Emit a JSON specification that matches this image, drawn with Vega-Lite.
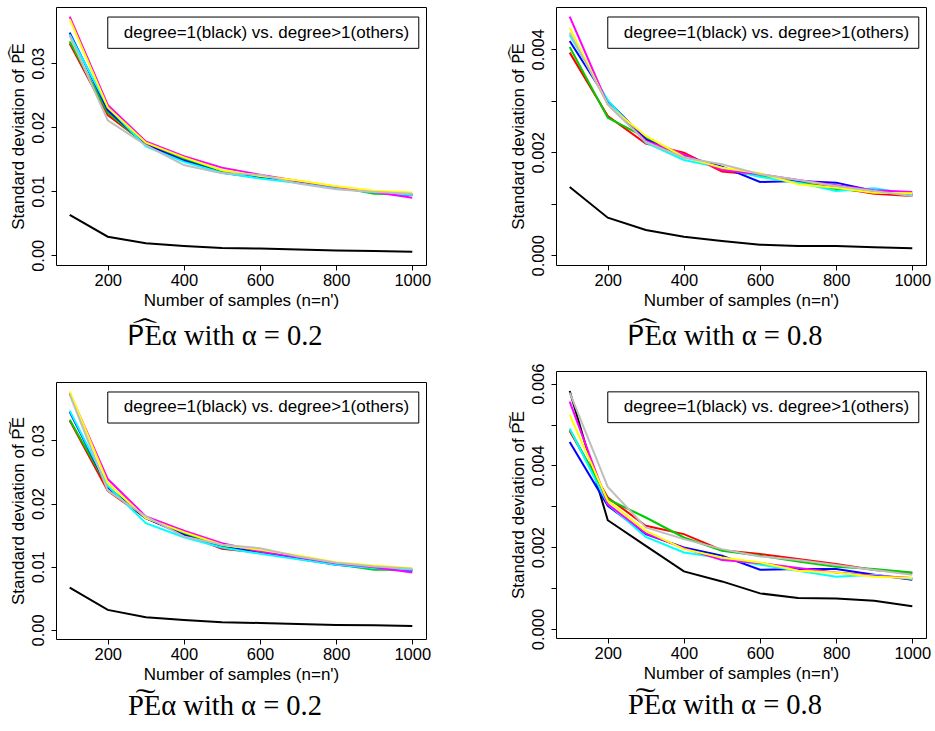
{
  "$schema": "https://vega.github.io/schema/vega-lite/v6.json",
  "background": "white",
  "padding": {"left": 8, "top": 6, "right": 0, "bottom": 2},
  "datasets": {
    "tl": [
      {"n": 100, "d1": 0.0063, "d2": 0.0331, "d3": 0.0334, "d4": 0.0348, "d5": 0.0345, "d6": 0.0373, "d7": 0.0369, "d8": 0.0343},
      {"n": 200, "d1": 0.0029, "d2": 0.0219, "d3": 0.0223, "d4": 0.0227, "d5": 0.0232, "d6": 0.0235, "d7": 0.0231, "d8": 0.0211},
      {"n": 300, "d1": 0.00188, "d2": 0.0174, "d3": 0.0173, "d4": 0.0173, "d5": 0.0170, "d6": 0.0178, "d7": 0.0176, "d8": 0.0172},
      {"n": 400, "d1": 0.00146, "d2": 0.0152, "d3": 0.0150, "d4": 0.0148, "d5": 0.0146, "d6": 0.0155, "d7": 0.0153, "d8": 0.0141},
      {"n": 500, "d1": 0.00115, "d2": 0.0130, "d3": 0.0132, "d4": 0.0129, "d5": 0.0129, "d6": 0.0137, "d7": 0.0133, "d8": 0.0128},
      {"n": 600, "d1": 0.00104, "d2": 0.0122, "d3": 0.0123, "d4": 0.0121, "d5": 0.0120, "d6": 0.0126, "d7": 0.0124, "d8": 0.0126},
      {"n": 700, "d1": 0.00089, "d2": 0.0115, "d3": 0.0115, "d4": 0.0114, "d5": 0.0113, "d6": 0.0116, "d7": 0.0117, "d8": 0.0112},
      {"n": 800, "d1": 0.00073, "d2": 0.0106, "d3": 0.0107, "d4": 0.0106, "d5": 0.0105, "d6": 0.0107, "d7": 0.0108, "d8": 0.0103},
      {"n": 900, "d1": 0.00068, "d2": 0.0099, "d3": 0.0096, "d4": 0.0098, "d5": 0.0098, "d6": 0.0099, "d7": 0.0101, "d8": 0.0099},
      {"n": 1000, "d1": 0.00057, "d2": 0.0095, "d3": 0.0095, "d4": 0.0094, "d5": 0.0094, "d6": 0.0090, "d7": 0.0098, "d8": 0.0096}
    ],
    "tr": [
      {"n": 100, "d1": 0.001327, "d2": 0.003935, "d3": 0.004045, "d4": 0.004162, "d5": 0.004278, "d6": 0.004634, "d7": 0.00442, "d8": 0.004324},
      {"n": 200, "d1": 0.000731, "d2": 0.002706, "d3": 0.002673, "d4": 0.002997, "d5": 0.00301, "d6": 0.002932, "d7": 0.002919, "d8": 0.002932},
      {"n": 300, "d1": 0.000492, "d2": 0.002168, "d3": 0.002285, "d4": 0.002252, "d5": 0.002188, "d6": 0.00222, "d7": 0.002317, "d8": 0.0022},
      {"n": 400, "d1": 0.000362, "d2": 0.001994, "d3": 0.001929, "d4": 0.001929, "d5": 0.001851, "d6": 0.001961, "d7": 0.001909, "d8": 0.001896},
      {"n": 500, "d1": 0.000278, "d2": 0.001625, "d3": 0.001689, "d4": 0.001722, "d5": 0.0017, "d6": 0.001657, "d7": 0.001702, "d8": 0.001767},
      {"n": 600, "d1": 0.000207, "d2": 0.00156, "d3": 0.00154, "d4": 0.001424, "d5": 0.001521, "d6": 0.001573, "d7": 0.001592, "d8": 0.001573},
      {"n": 700, "d1": 0.000181, "d2": 0.001411, "d3": 0.00143, "d4": 0.001443, "d5": 0.001411, "d6": 0.001463, "d7": 0.001379, "d8": 0.001463},
      {"n": 800, "d1": 0.000181, "d2": 0.001314, "d3": 0.001282, "d4": 0.001411, "d5": 0.001249, "d6": 0.001359, "d7": 0.001314, "d8": 0.001346},
      {"n": 900, "d1": 0.000155, "d2": 0.001197, "d3": 0.001236, "d4": 0.001249, "d5": 0.001301, "d6": 0.001262, "d7": 0.001217, "d8": 0.001249},
      {"n": 1000, "d1": 0.000136, "d2": 0.001152, "d3": 0.001171, "d4": 0.001184, "d5": 0.001184, "d6": 0.00123, "d7": 0.001204, "d8": 0.001152}
    ],
    "bl": [
      {"n": 100, "d1": 0.00671, "d2": 0.03312, "d3": 0.03327, "d4": 0.0345, "d5": 0.0347, "d6": 0.0375, "d7": 0.03776, "d8": 0.03724},
      {"n": 200, "d1": 0.00317, "d2": 0.02203, "d3": 0.0226, "d4": 0.02255, "d5": 0.0228, "d6": 0.02387, "d7": 0.02324, "d8": 0.02203},
      {"n": 300, "d1": 0.00201, "d2": 0.01769, "d3": 0.01769, "d4": 0.01769, "d5": 0.0169, "d6": 0.01796, "d7": 0.01769, "d8": 0.01796},
      {"n": 400, "d1": 0.00158, "d2": 0.01516, "d3": 0.0153, "d4": 0.01505, "d5": 0.01468, "d6": 0.01569, "d7": 0.01548, "d8": 0.01479},
      {"n": 500, "d1": 0.00121, "d2": 0.01283, "d3": 0.0132, "d4": 0.01305, "d5": 0.01305, "d6": 0.01373, "d7": 0.01347, "d8": 0.01347},
      {"n": 600, "d1": 0.00111, "d2": 0.01225, "d3": 0.01225, "d4": 0.01241, "d5": 0.01204, "d6": 0.01241, "d7": 0.01268, "d8": 0.01294},
      {"n": 700, "d1": 0.00095, "d2": 0.01136, "d3": 0.01136, "d4": 0.01125, "d5": 0.0112, "d6": 0.0115, "d7": 0.01178, "d8": 0.01162},
      {"n": 800, "d1": 0.00079, "d2": 0.0104, "d3": 0.0104, "d4": 0.0103, "d5": 0.0103, "d6": 0.01056, "d7": 0.01072, "d8": 0.01062},
      {"n": 900, "d1": 0.00074, "d2": 0.00988, "d3": 0.00951, "d4": 0.00982, "d5": 0.00977, "d6": 0.00993, "d7": 0.01019, "d8": 0.01004},
      {"n": 1000, "d1": 0.00063, "d2": 0.00951, "d3": 0.00951, "d4": 0.00935, "d5": 0.00951, "d6": 0.00908, "d7": 0.00977, "d8": 0.00967}
    ],
    "br": [
      {"n": 100, "d1": 0.00582, "d2": 0.004844, "d3": 0.004885, "d4": 0.004575, "d5": 0.0049, "d6": 0.00556, "d7": 0.005235, "d8": 0.00578},
      {"n": 200, "d1": 0.00266, "d2": 0.003216, "d3": 0.003175, "d4": 0.003012, "d5": 0.003053, "d6": 0.003053, "d7": 0.003134, "d8": 0.003476},
      {"n": 300, "d1": 0.002035, "d2": 0.002524, "d3": 0.002727, "d4": 0.00232, "d5": 0.002255, "d6": 0.002336, "d7": 0.002402, "d8": 0.002483},
      {"n": 400, "d1": 0.001408, "d2": 0.00232, "d3": 0.002239, "d4": 0.001995, "d5": 0.001872, "d6": 0.001978, "d7": 0.001954, "d8": 0.002198},
      {"n": 500, "d1": 0.001164, "d2": 0.001929, "d3": 0.001913, "d4": 0.001791, "d5": 0.001734, "d6": 0.001685, "d7": 0.00175, "d8": 0.001954},
      {"n": 600, "d1": 0.000871, "d2": 0.001832, "d3": 0.001791, "d4": 0.001449, "d5": 0.001571, "d6": 0.001612, "d7": 0.001628, "d8": 0.001775},
      {"n": 700, "d1": 0.000757, "d2": 0.00171, "d3": 0.001653, "d4": 0.001465, "d5": 0.001425, "d6": 0.00149, "d7": 0.001425, "d8": 0.001685},
      {"n": 800, "d1": 0.000749, "d2": 0.001588, "d3": 0.001522, "d4": 0.001465, "d5": 0.001278, "d6": 0.001384, "d7": 0.001384, "d8": 0.001563},
      {"n": 900, "d1": 0.000692, "d2": 0.001441, "d3": 0.001465, "d4": 0.001327, "d5": 0.001327, "d6": 0.001303, "d7": 0.001278, "d8": 0.001441},
      {"n": 1000, "d1": 0.000554, "d2": 0.001368, "d3": 0.001384, "d4": 0.001205, "d5": 0.001221, "d6": 0.001246, "d7": 0.001246, "d8": 0.001327}
    ]
  },
  "spacing": 76,
  "hconcat": [
    {
      "bounds": "flush",
      "spacing": 117,
      "vconcat": [
        {
          "width": 370, "height": 258,
          "title": {"text": "P\u1dcdE\u03b1 with \u03b1 = 0.2", "offset": 13},
          "data": {"name": "tl"},
          "transform": [{"fold": ["d1", "d2", "d3", "d4", "d5", "d6", "d7", "d8"], "as": ["key", "sd"]}],
          "layer": [
            {
              "mark": {"type": "line", "strokeWidth": 2},
              "encoding": {
                "x": {"field": "n", "type": "quantitative", "scale": {"domain": [64, 1036], "nice": false, "zero": false}, "axis": {"values": [200, 400, 600, 800, 1000], "format": "d", "title": "Number of samples (n=n')"}},
                "y": {"field": "sd", "type": "quantitative", "scale": {"domain": [-0.00152, 0.0388], "nice": false, "zero": false}, "axis": {"values": [0, 0.01, 0.02, 0.03], "format": ".2f", "title": "Standard deviation of P\u1dcdE"}},
                "color": {"field": "key", "type": "nominal", "scale": {"domain": ["d1", "d2", "d3", "d4", "d5", "d6", "d7", "d8"], "range": ["black", "red", "#00CD00", "blue", "cyan", "magenta", "yellow", "#BEBEBE"]}, "legend": null}
              }
            },
            {
              "data": {"values": [{}]},
              "mark": {"type": "rect", "fill": "white", "stroke": "black", "strokeWidth": 1},
              "encoding": {"x": {"datum": 200}, "x2": {"datum": 1017}, "y": {"datum": 0.03723}, "y2": {"datum": 0.03234}}
            },
            {
              "data": {"values": [{}]},
              "mark": {"type": "text", "align": "left", "baseline": "middle", "font": "Liberation Sans", "fontSize": 17, "color": "black"},
              "encoding": {"x": {"datum": 242}, "y": {"datum": 0.03478}, "text": {"value": "degree=1(black) vs. degree>1(others)"}}
            }
          ]
        },
        {
          "width": 370, "height": 257,
          "title": {"text": "P\u0360E\u03b1 with \u03b1 = 0.2", "offset": 9},
          "data": {"name": "bl"},
          "transform": [{"fold": ["d1", "d2", "d3", "d4", "d5", "d6", "d7", "d8"], "as": ["key", "sd"]}],
          "layer": [
            {
              "mark": {"type": "line", "strokeWidth": 2},
              "encoding": {
                "x": {"field": "n", "type": "quantitative", "scale": {"domain": [64, 1036], "nice": false, "zero": false}, "axis": {"values": [200, 400, 600, 800, 1000], "format": "d", "title": "Number of samples (n=n')"}},
                "y": {"field": "sd", "type": "quantitative", "scale": {"domain": [-0.00143, 0.03923], "nice": false, "zero": false}, "axis": {"values": [0, 0.01, 0.02, 0.03], "format": ".2f", "title": "Standard deviation of P\u0360E"}},
                "color": {"field": "key", "type": "nominal", "scale": {"domain": ["d1", "d2", "d3", "d4", "d5", "d6", "d7", "d8"], "range": ["black", "red", "#00CD00", "blue", "cyan", "magenta", "yellow", "#BEBEBE"]}, "legend": null}
              }
            },
            {
              "data": {"values": [{}]},
              "mark": {"type": "rect", "fill": "white", "stroke": "black", "strokeWidth": 1},
              "encoding": {"x": {"datum": 200}, "x2": {"datum": 1017}, "y": {"datum": 0.03765}, "y2": {"datum": 0.03274}}
            },
            {
              "data": {"values": [{}]},
              "mark": {"type": "text", "align": "left", "baseline": "middle", "font": "Liberation Sans", "fontSize": 17, "color": "black"},
              "encoding": {"x": {"datum": 242}, "y": {"datum": 0.0352}, "text": {"value": "degree=1(black) vs. degree>1(others)"}}
            }
          ]
        }
      ]
    },
    {
      "bounds": "flush",
      "spacing": 106,
      "vconcat": [
        {
          "width": 370, "height": 258,
          "title": {"text": "P\u1dcdE\u03b1 with \u03b1 = 0.8", "offset": 13},
          "data": {"name": "tr"},
          "transform": [{"fold": ["d1", "d2", "d3", "d4", "d5", "d6", "d7", "d8"], "as": ["key", "sd"]}],
          "layer": [
            {
              "mark": {"type": "line", "strokeWidth": 2},
              "encoding": {
                "x": {"field": "n", "type": "quantitative", "scale": {"domain": [64, 1036], "nice": false, "zero": false}, "axis": {"values": [200, 400, 600, 800, 1000], "format": "d", "title": "Number of samples (n=n')"}},
                "y": {"field": "sd", "type": "quantitative", "scale": {"domain": [-0.000188, 0.004821], "nice": false, "zero": false}, "axis": {"values": [0, 0.001, 0.002, 0.003, 0.004], "labelExpr": "round(datum.value*1000) % 2 == 0 ? format(datum.value, '.3f') : ''", "title": "Standard deviation of P\u1dcdE"}},
                "color": {"field": "key", "type": "nominal", "scale": {"domain": ["d1", "d2", "d3", "d4", "d5", "d6", "d7", "d8"], "range": ["black", "red", "#00CD00", "blue", "cyan", "magenta", "yellow", "#BEBEBE"]}, "legend": null}
              }
            },
            {
              "data": {"values": [{}]},
              "mark": {"type": "rect", "fill": "white", "stroke": "black", "strokeWidth": 1},
              "encoding": {"x": {"datum": 200}, "x2": {"datum": 1017}, "y": {"datum": 0.004627}, "y2": {"datum": 0.004019}}
            },
            {
              "data": {"values": [{}]},
              "mark": {"type": "text", "align": "left", "baseline": "middle", "font": "Liberation Sans", "fontSize": 17, "color": "black"},
              "encoding": {"x": {"datum": 242}, "y": {"datum": 0.004323}, "text": {"value": "degree=1(black) vs. degree>1(others)"}}
            }
          ]
        },
        {
          "width": 370, "height": 267,
          "title": {"text": "P\u0360E\u03b1 with \u03b1 = 0.8", "offset": 9},
          "data": {"name": "br"},
          "transform": [{"fold": ["d1", "d2", "d3", "d4", "d5", "d6", "d7", "d8"], "as": ["key", "sd"]}],
          "layer": [
            {
              "mark": {"type": "line", "strokeWidth": 2},
              "encoding": {
                "x": {"field": "n", "type": "quantitative", "scale": {"domain": [64, 1036], "nice": false, "zero": false}, "axis": {"values": [200, 400, 600, 800, 1000], "format": "d", "title": "Number of samples (n=n')"}},
                "y": {"field": "sd", "type": "quantitative", "scale": {"domain": [-0.00022, 0.00631], "nice": false, "zero": false}, "axis": {"values": [0, 0.001, 0.002, 0.003, 0.004, 0.005, 0.006], "labelExpr": "round(datum.value*1000) % 2 == 0 ? format(datum.value, '.3f') : ''", "title": "Standard deviation of P\u0360E"}},
                "color": {"field": "key", "type": "nominal", "scale": {"domain": ["d1", "d2", "d3", "d4", "d5", "d6", "d7", "d8"], "range": ["black", "red", "#00CD00", "blue", "cyan", "magenta", "yellow", "#BEBEBE"]}, "legend": null}
              }
            },
            {
              "data": {"values": [{}]},
              "mark": {"type": "rect", "fill": "white", "stroke": "black", "strokeWidth": 1},
              "encoding": {"x": {"datum": 200}, "x2": {"datum": 1017}, "y": {"datum": 0.0058}, "y2": {"datum": 0.005047}}
            },
            {
              "data": {"values": [{}]},
              "mark": {"type": "text", "align": "left", "baseline": "middle", "font": "Liberation Sans", "fontSize": 17, "color": "black"},
              "encoding": {"x": {"datum": 242}, "y": {"datum": 0.005424}, "text": {"value": "degree=1(black) vs. degree>1(others)"}}
            }
          ]
        }
      ]
    }
  ],
  "config": {
    "view": {"stroke": "black", "strokeWidth": 1},
    "axis": {"domain": false, "grid": false, "ticks": true, "tickColor": "black", "tickSize": 5, "tickWidth": 1, "labelFont": "Liberation Sans", "labelFontSize": 16.5, "labelColor": "black", "labelFlush": false, "labelOverlap": false, "titleFont": "Liberation Sans", "titleFontSize": 17, "titleFontWeight": "normal", "titleColor": "black"},
    "axisY": {"labelAngle": -90, "labelAlign": "center", "labelBaseline": "alphabetic", "labelPadding": 7.5, "titlePadding": 3},
    "axisX": {"labelAngle": 0, "labelPadding": 2, "titlePadding": 4},
    "title": {"font": "Liberation Serif", "fontSize": 28.5, "fontWeight": "normal", "color": "black", "orient": "bottom", "baseline": "alphabetic", "dx": -16, "anchor": "middle"}
  }
}
